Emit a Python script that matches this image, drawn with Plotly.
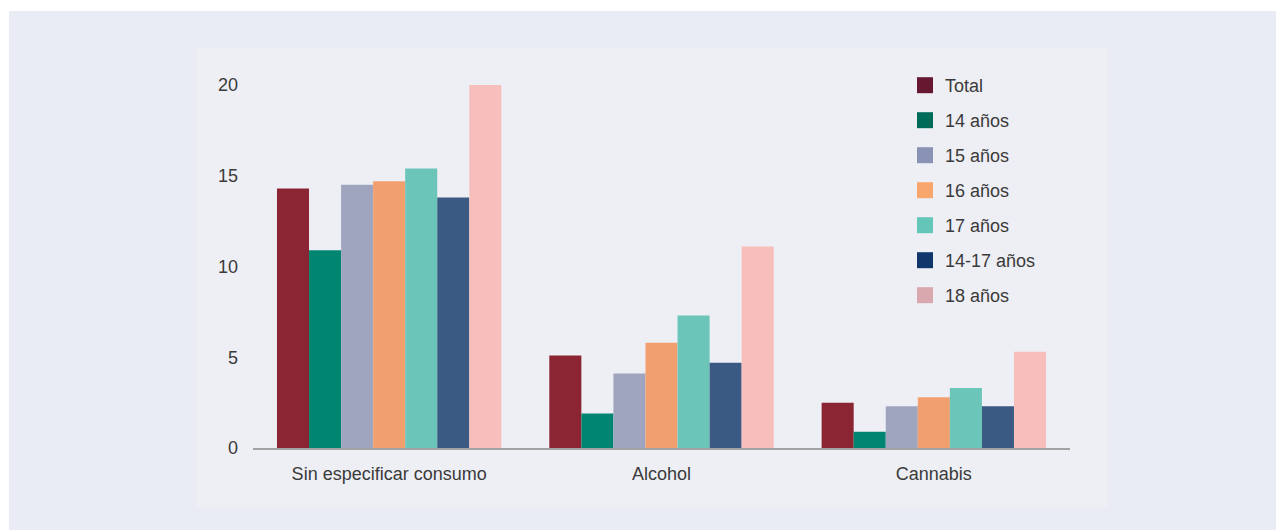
import plotly.graph_objects as go

# data
categories = ["Sin especificar consumo", "Alcohol", "Cannabis"]
series_names = ["Total", "14 años", "15 años", "16 años", "17 años", "14-17 años", "18 años"]
total = [14.3, 5.1, 2.5]
age_14 = [10.9, 1.9, 0.9]
age_15 = [14.5, 4.1, 2.3]
age_16 = [14.7, 5.8, 2.8]
age_17 = [15.4, 7.3, 3.3]
age_14_17 = [13.8, 4.7, 2.3]
age_18 = [20.0, 11.1, 5.3]

series_values = [total, age_14, age_15, age_16, age_17, age_14_17, age_18]
bar_colors = ["#8C2533", "#008570", "#A0A5BF", "#F29F6F", "#6BC6B9", "#3A5A84", "#F8BEBB"]
legend_colors = ["#651830", "#006B58", "#8A93B5", "#F9A66C", "#64C6B8", "#11366B", "#D8A8AE"]

W, H = 1284, 530
# pixel positions inside the figure (page has an 8px body margin)
plot_l, plot_r, plot_t, plot_b = 245, 1062, 58, 440
px_per_unit = 18.15
text_col = "#3A3A3A"

fig = go.Figure()
for name, vals, col in zip(series_names, series_values, bar_colors):
    fig.add_trace(go.Bar(x=categories, y=vals, name=name, marker_color=col,
                         marker_line_width=0, showlegend=False))

# legend swatches (colours in the reference legend differ from the bars)
for i, (name, col) in enumerate(zip(series_names, legend_colors)):
    fig.add_trace(go.Scatter(x=[None], y=[None], mode="markers", name=name,
                             legendgroup=str(i),
                             marker=dict(symbol="square", size=16, color=col)))


def px_x(p):
    return (p - plot_l) / (plot_r - plot_l)


def px_y(p):
    return (plot_b - p) / (plot_b - plot_t)


# outer frame and inner panel
fig.add_shape(type="rect", xref="paper", yref="paper", layer="below",
              x0=px_x(1), x1=px_x(1300), y0=px_y(540), y1=px_y(3),
              fillcolor="#E9ECF4", line_width=0)
fig.add_shape(type="rect", xref="paper", yref="paper", layer="below",
              x0=px_x(189), x1=px_x(1099), y0=px_y(499), y1=px_y(40),
              fillcolor="#EEEFF5", line_width=0)

fig.update_layout(
    width=W, height=H,
    margin=dict(l=plot_l, r=W - plot_r, t=plot_t, b=H - plot_b),
    paper_bgcolor="white",
    plot_bgcolor="rgba(0,0,0,0)",
    font=dict(family="Liberation Sans, Arial, sans-serif", size=18, color=text_col),
    barmode="group",
    bargap=0.176,
    bargroupgap=0,
    legend=dict(x=px_x(897), y=px_y(59), xanchor="left", yanchor="top",
                bgcolor="rgba(0,0,0,0)", tracegroupgap=8.6,
                font=dict(size=18, color=text_col), itemwidth=30),
    xaxis=dict(showline=True, linecolor="#A3A3A3", linewidth=2, showgrid=False,
               ticks="", zeroline=False, ticklabelstandoff=8,
               tickfont=dict(size=18, color=text_col)),
    yaxis=dict(range=[0, (plot_b - plot_t) / px_per_unit], showgrid=False,
               zeroline=False, showline=False, tickvals=[0, 5, 10, 15, 20],
               ticks="", ticklabelstandoff=14, tickfont=dict(size=18, color=text_col)),
)

fig.write_html("out.html")
